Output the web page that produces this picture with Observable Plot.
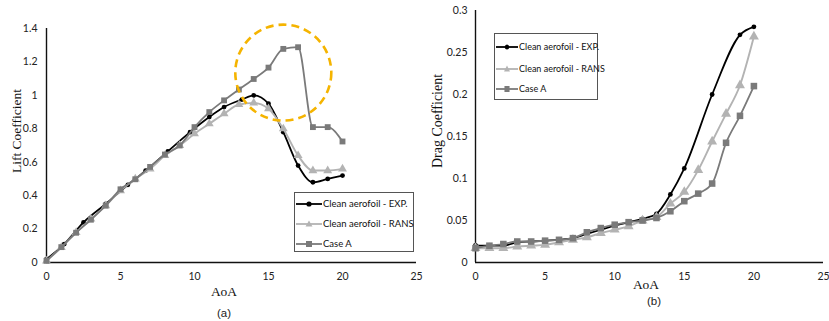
<!DOCTYPE html>
<html><head><meta charset="utf-8">
<script src="https://cdn.jsdelivr.net/npm/d3@7"></script>
<script src="https://cdn.jsdelivr.net/npm/@observablehq/plot@0.6"></script>
<style>
body{margin:0;background:#fff;}
#page{position:relative;width:829px;height:321px;overflow:hidden;background:#fff;font-family:Lato,"Liberation Sans",sans-serif;}
.chart{position:absolute;top:0;}
.lbl{position:absolute;font-family:"Liberation Serif","DejaVu Serif",serif;font-size:13.5px;color:#111;white-space:nowrap;transform:translate(-50%,-50%);}
.rot{transform:translate(-50%,-50%) rotate(-90deg);}
.cap{position:absolute;font-family:"Liberation Sans",sans-serif;font-size:11.5px;color:#222;transform:translate(-50%,-50%);}
.legend{position:absolute;border:1.3px solid #555;background:#fff;box-sizing:border-box;}
.row{position:absolute;left:0;display:flex;align-items:center;white-space:nowrap;color:#111;}
.row svg{display:block;}
</style></head>
<body><div id="page"></div>
<script>
// ---- data ----
const xTicks = [0, 5, 10, 15, 20, 25];
const liftTicks = [0, 0.2, 0.4, 0.6, 0.8, 1, 1.2, 1.4];
const dragTicks = [0, 0.05, 0.1, 0.15, 0.2, 0.25, 0.3];
const seriesNames = ["Clean aerofoil - EXP.", "Clean aerofoil - RANS", "Case A"];

const aoaCFD = [0,1,2,3,4,5,6,7,8,9,10,11,12,13,14,15,16,17,18,19,20];

const liftExpAoa = [0,1.2,2.5,4,5.5,6.7,8.2,9.7,11,12,13.2,14,15,16,17,18,19,20];
const liftExp    = [0.02,0.11,0.24,0.35,0.465,0.55,0.665,0.78,0.87,0.93,0.975,1.0,0.95,0.78,0.58,0.48,0.5,0.52];
const liftRans   = [0.01,0.09,0.18,0.26,0.34,0.43,0.5,0.56,0.64,0.7,0.77,0.83,0.89,0.945,0.955,0.92,0.8,0.64,0.55,0.55,0.56];
const liftCaseA  = [0.01,0.092,0.178,0.256,0.34,0.438,0.498,0.572,0.646,0.7,0.81,0.9,0.97,1.035,1.098,1.166,1.278,1.288,0.81,0.81,0.724];

const dragExpAoa = [0,1,2,3,4,5,6,7,8,9,10,11,12,13,14,15,17,19,20];
const dragExp    = [0.0205,0.02,0.02,0.024,0.025,0.026,0.027,0.029,0.034,0.039,0.044,0.048,0.052,0.058,0.081,0.112,0.2,0.271,0.2806];
const dragRans   = [0.017,0.017,0.017,0.019,0.02,0.021,0.024,0.027,0.03,0.035,0.039,0.043,0.05,0.054,0.07,0.084,0.11,0.144,0.177,0.211,0.269];
const dragCaseA  = [0.017,0.02,0.022,0.025,0.025,0.026,0.027,0.029,0.036,0.041,0.045,0.048,0.05,0.053,0.061,0.073,0.082,0.094,0.1425,0.1746,0.21];

const highlight = [{aoa: 16, cl: 1.136}];

// ---- styles ----
const colors = {exp: "#000000", rans: "#b3b3b3", caseA: "#7a7a7a"};
const zip = (xs, ys) => xs.map((x, i) => ({x, y: ys[i]}));
const fmt = d => String(+d.toFixed(2));

function chart(o) {
  const exp = zip(o.expX, o.exp), rans = zip(aoaCFD, o.rans), caseA = zip(aoaCFD, o.caseA);
  return Plot.plot({
    width: o.width, height: 300,
    marginLeft: o.ml, marginRight: o.mr, marginTop: o.mt, marginBottom: 38,
    style: {fontFamily: "Lato, 'Liberation Sans', sans-serif", fontSize: "10.5px", color: "#222", background: "transparent", overflow: "visible"},
    x: {domain: [0, 25]},
    y: {domain: o.yDomain},
    marks: [
      Plot.axisX(xTicks, {tickSize: 0, tickPadding: 10, tickFormat: fmt, label: null}),
      Plot.axisY(o.yTicks, {tickSize: 0, tickPadding: o.tp, tickFormat: fmt, label: null}),
      Plot.ruleY([0], {stroke: "#111", strokeWidth: 1.4}),
      Plot.ruleX([0], {stroke: "#111", strokeWidth: 1.4}),
      Plot.line(exp, {x: "x", y: "y", stroke: colors.exp, strokeWidth: 1.8, curve: "monotone-x"}),
      Plot.dot(exp, {x: "x", y: "y", fill: colors.exp, r: 2.4, symbol: "circle"}),
      Plot.line(rans, {x: "x", y: "y", stroke: colors.rans, strokeWidth: 1.9, curve: "monotone-x"}),
      Plot.dot(rans, {x: "x", y: "y", fill: colors.rans, r: o.sr, symbol: "triangle"}),
      Plot.line(caseA, {x: "x", y: "y", stroke: colors.caseA, strokeWidth: 1.8, curve: "monotone-x"}),
      Plot.dot(caseA, {x: "x", y: "y", fill: colors.caseA, r: o.sr, symbol: "square"}),
      ...(o.circle ? [Plot.dot(o.circle, {x: "aoa", y: "cl", r: 48, stroke: "#f5b400", strokeWidth: 2.6, strokeDasharray: "8,5", fill: "none"})] : [])
    ]
  });
}

const page = document.getElementById("page");
function place(el, left) { el.classList.add("chart"); el.style.left = left + "px"; page.appendChild(el); }

place(chart({width: 420, ml: 46, mr: 4, mt: 28, yDomain: [0, 1.4], yTicks: liftTicks, tp: 9, sr: 3.3,
  expX: liftExpAoa, exp: liftExp, rans: liftRans, caseA: liftCaseA, circle: highlight}), 0);
place(chart({width: 409, ml: 55, mr: 6, mt: 10, yDomain: [0, 0.3], yTicks: dragTicks, tp: 8, sr: 3.7,
  expX: dragExpAoa, exp: dragExp, rans: dragRans, caseA: dragCaseA}), 420);

function label(text, x, y, cls, extra) {
  const d = document.createElement("div");
  d.className = cls; d.textContent = text;
  d.style.left = x + "px"; d.style.top = y + "px";
  if (extra) Object.assign(d.style, extra);
  page.appendChild(d);
}
label("Lift Coefficient", 17, 131, "lbl rot");
label("AoA", 224, 292, "lbl");
label("(a)", 224, 313, "cap");
label("Drag Coefficient", 438, 121, "lbl rot", {fontSize: "14px"});
label("AoA", 646, 285, "lbl");
label("(b)", 654, 301, "cap");

function marker(kind, c) {
  if (kind === "circle") return `<circle cx="13" cy="5" r="2.6" fill="${c}"/>`;
  if (kind === "triangle") return `<path d="M13 1.5 L16.5 7.5 L9.5 7.5Z" fill="${c}"/>`;
  return `<rect x="10" y="2" width="6" height="6" fill="${c}"/>`;
}
function legend(x, y, w, h, rowsY, lineW, fs) {
  const box = document.createElement("div");
  box.className = "legend";
  Object.assign(box.style, {left: x + "px", top: y + "px", width: w + "px", height: h + "px"});
  const kinds = [["circle", colors.exp], ["triangle", colors.rans], ["square", colors.caseA]];
  seriesNames.forEach((name, i) => {
    const r = document.createElement("div");
    r.className = "row";
    r.style.top = (rowsY[i] - y - 6) + "px";
    r.style.left = "1px";
    r.style.fontSize = fs + "px";
    const [k, c] = kinds[i];
    r.innerHTML = `<svg width="${lineW}" height="10" viewBox="0 0 26 10" preserveAspectRatio="none"><line x1="0" y1="5" x2="26" y2="5" stroke="${c}" stroke-width="1.8"/>${marker(k, c)}</svg><span style="margin-left:1px">${name}</span>`;
    page.appendChild(box);
    box.appendChild(r);
  });
}
legend(294, 192, 120, 60, [203, 223, 243], 26, 9.5);
legend(494, 33, 104, 67, [46, 68, 88], 22, 9);
</script></body></html>
